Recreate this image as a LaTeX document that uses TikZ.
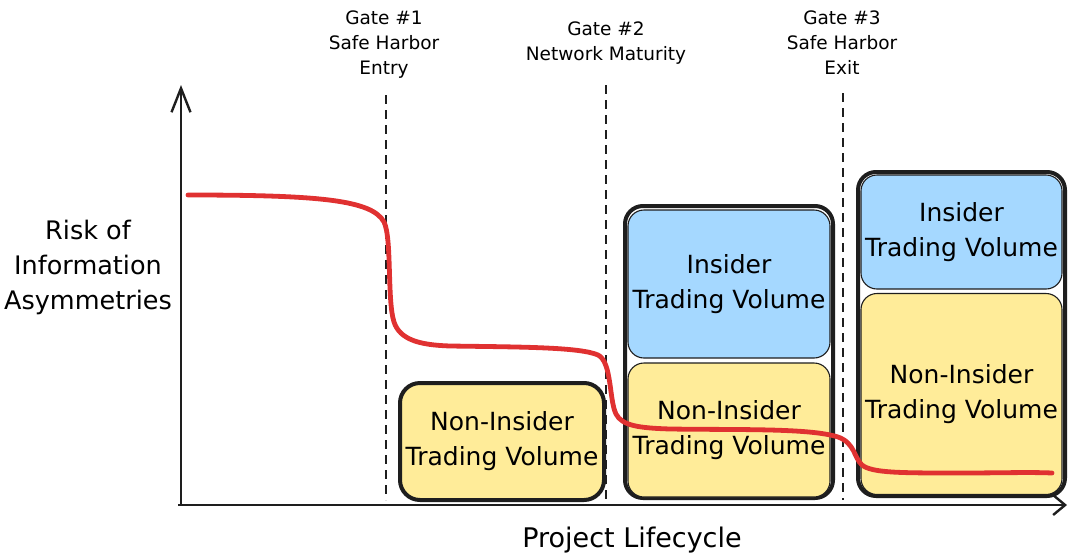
\documentclass[tikz,border=0pt]{standalone}
\usepackage{fontspec}
\setmainfont{DejaVu Sans}
\usetikzlibrary{arrows.meta}
\definecolor{ink}{HTML}{1E1E1E}
\definecolor{yel}{HTML}{FFEC99}
\definecolor{blu}{HTML}{A5D8FF}
\definecolor{redl}{HTML}{E03131}
\tikzset{
  outerbox/.style={draw=ink, line width=4pt, rounded corners=18pt, inner sep=0pt},
  innerbox/.style={draw=ink, line width=1.1pt, rounded corners=16pt, inner sep=0pt, align=center,
    font=\fontsize{25}{35}\selectfont, text=black},
  yelbox/.style={innerbox, fill=yel},
  blubox/.style={innerbox, fill=blu},
  gatelbl/.style={align=center, font=\fontsize{18.5}{25}\selectfont, text=black},
  axislbl/.style={align=center, font=\fontsize{25.5}{35}\selectfont, text=black},
  gateline/.style={draw=ink, line width=2.2pt, dash pattern=on 9pt off 6pt},
  axisline/.style={draw=ink, line width=2.6pt},
  riskcurve/.style={draw=redl, line width=4.8pt, line cap=round, line join=round},
}
\begin{document}
\begin{tikzpicture}[x=1pt, y=-1pt]
\useasboundingbox[fill=white] (0,0) rectangle (1069,558);

% gate lines
\coordinate (g1t) at (386,95);  \coordinate (g1b) at (386,500);
\coordinate (g2t) at (606,85);  \coordinate (g2b) at (606,500);
\coordinate (g3t) at (843,93);  \coordinate (g3b) at (843,500);
\draw[gateline] (g1t) -- (g1b);
\draw[gateline] (g2t) -- (g2b);
\draw[gateline] (g3t) -- (g3b);

% gate labels
\node[gatelbl] (gate1) at (384,45) {Gate \#1\\Safe Harbor\\Entry};
\node[gatelbl] (gate2) at (606,43) {Gate \#2\\Network Maturity};
\node[gatelbl] (gate3) at (842,43) {Gate \#3\\Safe Harbor\\Exit};

% box 1
\node[yelbox, line width=4pt, rounded corners=20pt, minimum width=204pt, minimum height=117pt] (b1) at (502,441.5) {Non-Insider\\Trading Volume};

% box 2
\node[outerbox, minimum width=208pt, minimum height=292pt] (b2) at (729,352) {};
\node[blubox, minimum width=202pt, minimum height=148pt] (b2i) at (729,284) {Insider\\Trading Volume};
\node[yelbox, minimum width=202pt, minimum height=134pt] (b2n) at (729,430) {Non-Insider\\Trading Volume};

% box 3
\node[outerbox, minimum width=207pt, minimum height=324pt] (b3) at (961.5,334) {};
\node[blubox, minimum width=201pt, minimum height=114pt] (b3i) at (961.5,232) {Insider\\Trading Volume};
\node[yelbox, minimum width=201pt, minimum height=201pt] (b3n) at (961.5,394) {Non-Insider\\Trading Volume};

% axes
\coordinate (o) at (181,505);
\coordinate (ytip) at (181,85);
\coordinate (xs) at (178,505);
\coordinate (xtip) at (1067,505);
\draw[axisline, -{Straight Barb[length=24pt, width=19pt, line width=2.4pt]}] (o) -- (ytip);
\draw[axisline, -{Straight Barb[length=12pt, width=20pt, line width=2.4pt]}] (xs) -- (xtip);

\node[axislbl] (ylab) at (88,267) {Risk of\\Information\\Asymmetries};
\node[axislbl, font=\fontsize{27}{35}\selectfont] (xlab) at (632,540) {Project Lifecycle};

% risk curve
\draw[riskcurve] (188,195) .. controls (320,195) and (372,200) .. (384,222)
  .. controls (392,238) and (387,300) .. (394,322)
  .. controls (400,340) and (420,345) .. (450,346)
  .. controls (520,347) and (580,347) .. (598,355)
  .. controls (612,362) and (609,400) .. (616,414)
  .. controls (622,426) and (640,428) .. (670,429)
  .. controls (740,430) and (810,428) .. (838,437)
  .. controls (855,443) and (854,458) .. (862,465)
  .. controls (872,473) and (900,473) .. (960,473)
  .. controls (1000,473) and (1030,472) .. (1052,473);
\end{tikzpicture}
\end{document}
